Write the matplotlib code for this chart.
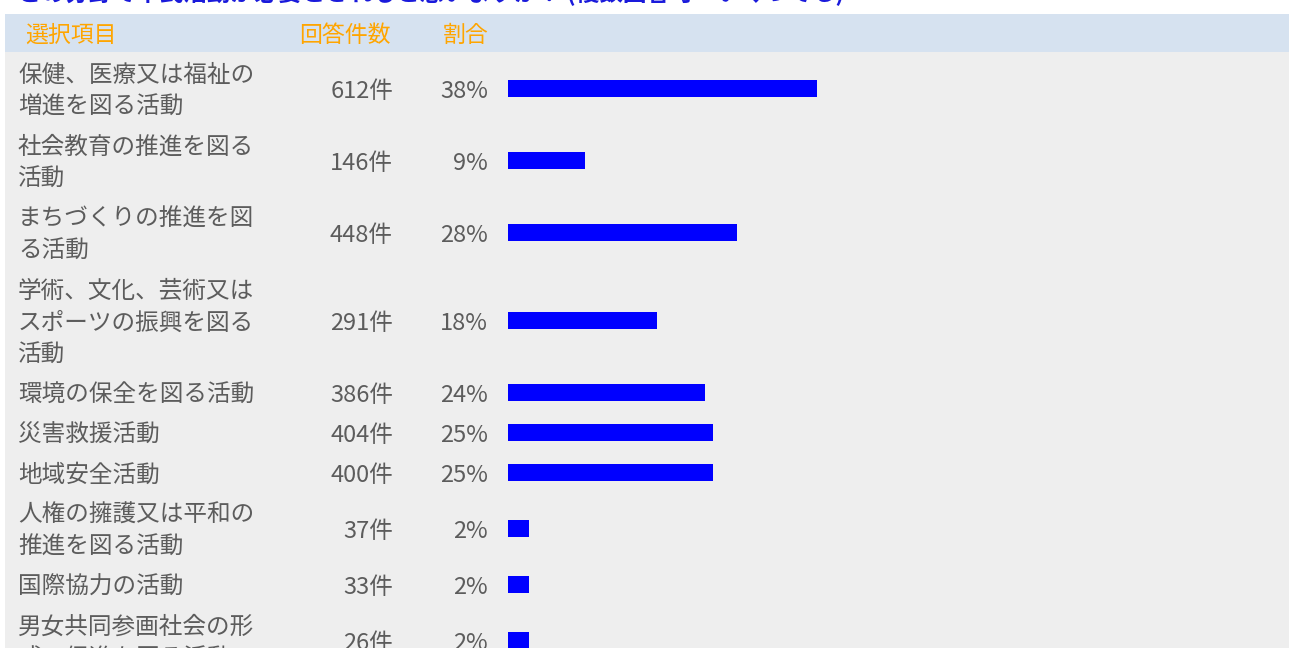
import matplotlib
matplotlib.use("Agg")
import matplotlib.pyplot as plt
from matplotlib.patches import Rectangle

plt.rcParams['font.family'] = ['Noto Sans CJK JP', 'DejaVu Sans']

# ---- data ----
title = "どの分野で市民活動が必要とされると思いますか？ (複数回答可・いくつでも)"
headers = ["選択項目", "回答件数", "割合"]
categories = [
    "保健、医療又は福祉の\n増進を図る活動",
    "社会教育の推進を図る\n活動",
    "まちづくりの推進を図\nる活動",
    "学術、文化、芸術又は\nスポーツの振興を図る\n活動",
    "環境の保全を図る活動",
    "災害救援活動",
    "地域安全活動",
    "人権の擁護又は平和の\n推進を図る活動",
    "国際協力の活動",
    "男女共同参画社会の形\n成の促進を図る活動",
]
counts = [612, 146, 448, 291, 386, 404, 400, 37, 33, 26]
percents = [38, 9, 28, 18, 24, 25, 25, 2, 2, 2]

# ---- layout (pixels) ----
W, H = 1289, 648
DPI = 100
LINE_H = 32
ROW_PAD = 8
HEADER_TOP, HEADER_BOT = 14, 52
LEFT_EDGE = 5
BAR_LEFT = 508
PX_PER_PCT = 8.0
BAR_STUB = 5  # px
BAR_H = 17
TXT_DY = 3.5  # optical baseline correction for CJK text

text_color = "#5c5c5c"
header_color = "#FFA500"
bar_color = "#0000FF"

fig = plt.figure(figsize=(W / DPI, H / DPI), dpi=DPI)
fig.patch.set_facecolor("white")
ax = fig.add_axes([0, 0, 1, 1])
ax.set_xlim(0, W)
ax.set_ylim(H, 0)
ax.axis("off")

# backgrounds
ax.add_patch(Rectangle((LEFT_EDGE, HEADER_BOT), W - LEFT_EDGE, H - HEADER_BOT,
                       facecolor="#EEEEEE", edgecolor="none", zorder=0))
ax.add_patch(Rectangle((LEFT_EDGE, HEADER_TOP), W - LEFT_EDGE, HEADER_BOT - HEADER_TOP,
                       facecolor="#D6E2F0", edgecolor="none", zorder=0))

# title (partially cut at top, as in the source)
ax.text(18, 1.5, title, fontsize=17, fontweight="bold", color="#1a1adb",
        ha="left", va="baseline", zorder=3)

# header
hy = (HEADER_TOP + HEADER_BOT) / 2 + TXT_DY - 1
for label, x in zip(headers, [25, 299, 443]):
    ax.text(x, hy, label, fontsize=16.5, color=header_color,
            ha="left", va="center", zorder=3)

# rows
centers = []
y = HEADER_BOT
for cat in categories:
    n = cat.count("\n") + 1
    h = n * LINE_H + ROW_PAD
    centers.append(y + h / 2)
    y += h

for cat, cnt, pct, cy in zip(categories, counts, percents, centers):
    lines = cat.split("\n")
    n = len(lines)
    ty = cy + TXT_DY
    for i, ln in enumerate(lines):
        ly = ty + (i - (n - 1) / 2) * LINE_H
        ax.text(18, ly, ln, fontsize=17, color=text_color, ha="left", va="center", zorder=3)
    ax.text(393, ty, f"{cnt}件", fontsize=17, color=text_color, ha="right", va="center", zorder=3)
    ax.text(488, ty, f"{pct}%", fontsize=17, color=text_color, ha="right", va="center", zorder=3)

# bars on their own axis (x in percent units)
bar_ax = fig.add_axes([BAR_LEFT / W, 0, (W - BAR_LEFT) / W, 1])
bar_ax.set_xlim(0, (W - BAR_LEFT) / PX_PER_PCT)
bar_ax.set_ylim(H, 0)
bar_ax.axis("off")
bar_ax.patch.set_alpha(0)
stub = BAR_STUB / PX_PER_PCT
bar_ax.barh(centers, [p + stub for p in percents], left=0, height=BAR_H,
            color=bar_color, edgecolor="none")

fig.savefig("out.png", dpi=DPI)
